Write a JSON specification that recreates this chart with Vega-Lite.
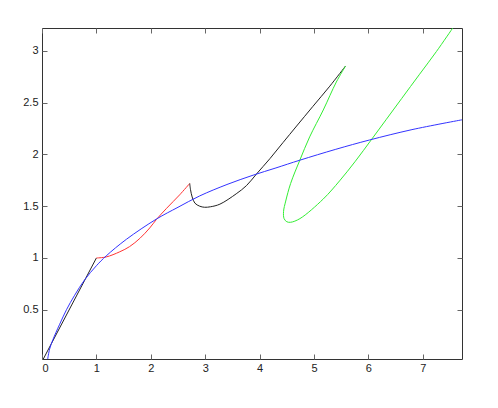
{
  "$schema": "https://vega.github.io/schema/vega-lite/v6.json",
  "width": 420,
  "height": 331,
  "autosize": {"type": "none"},
  "padding": {"left": 42, "top": 28, "right": 36, "bottom": 49},
  "background": "white",
  "config": {
    "font": "Liberation Sans",
    "view": {"stroke": "#333", "strokeWidth": 1},
    "axis": {"grid": false, "domain": false, "tickColor": "#666", "tickSize": -5, "labelFontSize": 11, "labelColor": "#222", "labelFont": "Liberation Sans", "title": null}
  },
  "data": {"values": [
    {"s": "black1", "i": 0, "x": 0, "y": 0},
    {"s": "black1", "i": 1, "x": 1, "y": 1},
    {"s": "red", "i": 0, "x": 1, "y": 1},
    {"s": "red", "i": 1, "x": 1.18, "y": 1.01},
    {"s": "red", "i": 2, "x": 1.43, "y": 1.06},
    {"s": "red", "i": 3, "x": 1.61, "y": 1.11},
    {"s": "red", "i": 4, "x": 1.8, "y": 1.19},
    {"s": "red", "i": 5, "x": 1.98, "y": 1.29},
    {"s": "red", "i": 6, "x": 2.1, "y": 1.37},
    {"s": "red", "i": 7, "x": 2.29, "y": 1.48},
    {"s": "red", "i": 8, "x": 2.53, "y": 1.61},
    {"s": "red", "i": 9, "x": 2.715, "y": 1.72},
    {"s": "black2", "i": 0, "x": 2.715, "y": 1.72},
    {"s": "black2", "i": 1, "x": 2.73, "y": 1.66},
    {"s": "black2", "i": 2, "x": 2.76, "y": 1.59},
    {"s": "black2", "i": 3, "x": 2.81, "y": 1.53},
    {"s": "black2", "i": 4, "x": 2.9, "y": 1.5},
    {"s": "black2", "i": 5, "x": 2.99, "y": 1.49},
    {"s": "black2", "i": 6, "x": 3.1, "y": 1.495},
    {"s": "black2", "i": 7, "x": 3.27, "y": 1.52},
    {"s": "black2", "i": 8, "x": 3.57, "y": 1.62},
    {"s": "black2", "i": 9, "x": 3.76, "y": 1.7},
    {"s": "black2", "i": 10, "x": 3.94, "y": 1.81},
    {"s": "black2", "i": 11, "x": 4.19, "y": 1.96},
    {"s": "black2", "i": 12, "x": 4.43, "y": 2.115},
    {"s": "black2", "i": 13, "x": 4.68, "y": 2.275},
    {"s": "black2", "i": 14, "x": 4.98, "y": 2.465},
    {"s": "black2", "i": 15, "x": 5.29, "y": 2.66},
    {"s": "black2", "i": 16, "x": 5.58, "y": 2.855},
    {"s": "green", "i": 0, "x": 5.58, "y": 2.855},
    {"s": "green", "i": 1, "x": 5.41, "y": 2.7},
    {"s": "green", "i": 2, "x": 5.17, "y": 2.43},
    {"s": "green", "i": 3, "x": 4.92, "y": 2.17},
    {"s": "green", "i": 4, "x": 4.74, "y": 1.946},
    {"s": "green", "i": 5, "x": 4.57, "y": 1.72},
    {"s": "green", "i": 6, "x": 4.48, "y": 1.55},
    {"s": "green", "i": 7, "x": 4.44, "y": 1.45},
    {"s": "green", "i": 8, "x": 4.45, "y": 1.38},
    {"s": "green", "i": 9, "x": 4.5, "y": 1.35},
    {"s": "green", "i": 10, "x": 4.57, "y": 1.345},
    {"s": "green", "i": 11, "x": 4.74, "y": 1.38},
    {"s": "green", "i": 12, "x": 5.17, "y": 1.57},
    {"s": "green", "i": 13, "x": 5.47, "y": 1.745},
    {"s": "green", "i": 14, "x": 5.76, "y": 1.935},
    {"s": "green", "i": 15, "x": 6.05, "y": 2.14},
    {"s": "green", "i": 16, "x": 6.33, "y": 2.34},
    {"s": "green", "i": 17, "x": 6.61, "y": 2.54},
    {"s": "green", "i": 18, "x": 6.94, "y": 2.775},
    {"s": "green", "i": 19, "x": 7.25, "y": 2.995},
    {"s": "green", "i": 20, "x": 7.55, "y": 3.222},
    {"s": "blue", "i": 0, "x": 0.105, "y": 0.024},
    {"s": "blue", "i": 1, "x": 0.14, "y": 0.12},
    {"s": "blue", "i": 2, "x": 0.2, "y": 0.21},
    {"s": "blue", "i": 3, "x": 0.325, "y": 0.36},
    {"s": "blue", "i": 4, "x": 0.45, "y": 0.5},
    {"s": "blue", "i": 5, "x": 0.6, "y": 0.64},
    {"s": "blue", "i": 6, "x": 0.785, "y": 0.79},
    {"s": "blue", "i": 7, "x": 1.0, "y": 0.925},
    {"s": "blue", "i": 8, "x": 1.18, "y": 1.02},
    {"s": "blue", "i": 9, "x": 1.55, "y": 1.18},
    {"s": "blue", "i": 10, "x": 2.1, "y": 1.375},
    {"s": "blue", "i": 11, "x": 2.5, "y": 1.49},
    {"s": "blue", "i": 12, "x": 2.9, "y": 1.6},
    {"s": "blue", "i": 13, "x": 3.4, "y": 1.71},
    {"s": "blue", "i": 14, "x": 3.88, "y": 1.8},
    {"s": "blue", "i": 15, "x": 4.3, "y": 1.87},
    {"s": "blue", "i": 16, "x": 4.74, "y": 1.945},
    {"s": "blue", "i": 17, "x": 5.4, "y": 2.05},
    {"s": "blue", "i": 18, "x": 6.02, "y": 2.14},
    {"s": "blue", "i": 19, "x": 6.8, "y": 2.24},
    {"s": "blue", "i": 20, "x": 7.72, "y": 2.335}
  ]},
  "resolve": {"axis": {"x": "independent", "y": "independent"}},
  "layer": [
    {
      "mark": {"type": "line", "interpolate": "catmull-rom", "strokeWidth": 1, "clip": true},
      "encoding": {
        "x": {"field": "x", "type": "quantitative", "scale": {"domain": [0, 7.72], "nice": false, "zero": false}, "axis": {"values": [0,1,2,3,4,5,6,7], "labelPadding": 8, "orient": "bottom"}},
        "y": {"field": "y", "type": "quantitative", "scale": {"domain": [0.024, 3.222], "nice": false, "zero": false}, "axis": {"values": [0.5,1,1.5,2,2.5,3], "format": "~g", "labelPadding": 9, "orient": "left"}},
        "color": {"field": "s", "type": "nominal", "scale": {"domain": ["black1","red","black2","green","blue"], "range": ["#222222","#ff3333","#222222","#33ee33","#3333ff"]}, "legend": null},
        "detail": {"field": "s"},
        "order": {"field": "i", "type": "quantitative"}
      }
    },
    {
      "mark": {"type": "line", "opacity": 0},
      "encoding": {
        "x": {"field": "x", "type": "quantitative", "axis": {"values": [0,1,2,3,4,5,6,7], "labels": false, "orient": "top"}},
        "y": {"field": "y", "type": "quantitative", "axis": {"values": [0.5,1,1.5,2,2.5,3], "labels": false, "orient": "right"}},
        "detail": {"field": "s"},
        "order": {"field": "i", "type": "quantitative"}
      }
    }
  ]
}
